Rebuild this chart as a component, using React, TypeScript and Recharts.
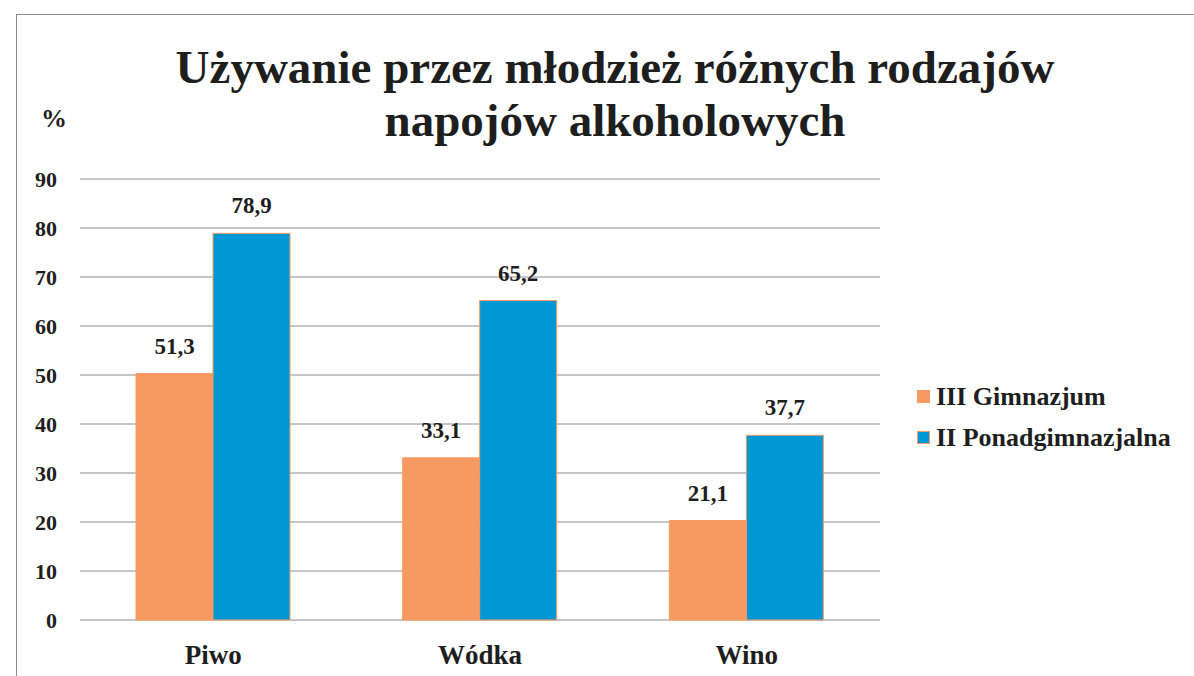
import { Bar, BarChart, CartesianGrid, LabelList, XAxis, YAxis } from "recharts";

const categories = ["Piwo", "Wódka", "Wino"];
// bar heights as drawn in the picture
const gimnazjum = [50.3, 33.1, 20.3];
const ponadgimnazjalna = [78.9, 65.2, 37.7];
// data labels as printed above the bars
const gimnazjumLabels = ["51,3", "33,1", "21,1"];
const ponadLabels = ["78,9", "65,2", "37,7"];
const yTicks = [0, 10, 20, 30, 40, 50, 60, 70, 80, 90];

const ORANGE = "#f79a62";
const BLUE = "#0098d4";
const TEXT = "#1e1e1e";
const FONT = "'Liberation Serif', 'DejaVu Serif', serif";

const data = categories.map((name, i) => ({
  name,
  g: gimnazjum[i],
  p: ponadgimnazjalna[i],
  gl: gimnazjumLabels[i],
  pl: ponadLabels[i],
}));

const legendItems = [
  { label: "III Gimnazjum", color: ORANGE },
  { label: "II Ponadgimnazjalna", color: BLUE },
];

export default function App() {
  return (
    <div
      style={{
        position: "fixed",
        left: 0,
        top: 0,
        width: 1194,
        height: 676,
        background: "#fff",
        fontFamily: FONT,
        overflow: "hidden",
      }}
    >
      <div
        style={{
          position: "absolute",
          left: 16,
          top: 14,
          width: 1200,
          height: 700,
          borderTop: "1px solid #8a8a8a",
          borderLeft: "1px solid #8a8a8a",
        }}
      />
      <div
        style={{
          position: "absolute",
          left: 0,
          width: 1230,
          top: 41,
          textAlign: "center",
          fontWeight: 700,
          fontSize: 47,
          lineHeight: "53px",
          color: TEXT,
        }}
      >
        Używanie przez młodzież różnych rodzajów
        <br />
        napojów alkoholowych
      </div>
      <div
        style={{
          position: "absolute",
          left: 41,
          top: 104,
          fontWeight: 700,
          fontSize: 26,
          color: TEXT,
        }}
      >
        %
      </div>
      <div
        style={{
          position: "absolute",
          left: 917,
          top: 376,
          fontWeight: 700,
          fontSize: 26,
          color: TEXT,
        }}
      >
        {legendItems.map((item) => (
          <div
            key={item.label}
            style={{ display: "flex", alignItems: "center", height: 41 }}
          >
            <span
              style={{
                display: "inline-block",
                width: 11,
                height: 11,
                background: item.color,
                border: `1px solid ${ORANGE}`,
                marginRight: 6,
              }}
            />
            {item.label}
          </div>
        ))}
      </div>
      <BarChart
        width={1194}
        height={676}
        data={data}
        margin={{ top: 179, right: 314, bottom: 0, left: 0 }}
        barCategoryGap="21%"
        barGap={0}
        style={{ position: "absolute", left: 0, top: 0 }}
      >
        <CartesianGrid vertical={false} stroke="#8c8c8c" strokeWidth={1} />
        <XAxis
          dataKey="name"
          height={56}
          axisLine={false}
          tickLine={false}
          tickMargin={19}
          tick={{ fill: TEXT, fontSize: 27, fontWeight: 700, fontFamily: FONT }}
        />
        <YAxis
          width={80}
          domain={[0, 90]}
          ticks={yTicks}
          axisLine={false}
          tickLine={false}
          tickSize={0}
          tickMargin={23}
          tick={{ fill: TEXT, fontSize: 22, fontWeight: 700, fontFamily: FONT }}
        />
        <Bar
          dataKey="g"
          name="III Gimnazjum"
          fill={ORANGE}
          stroke={ORANGE}
          strokeWidth={1}
          isAnimationActive={false}
        >
          <LabelList
            dataKey="gl"
            position="top"
            offset={20}
            fill={TEXT}
            fontSize={23}
            fontWeight={700}
            fontFamily={FONT}
          />
        </Bar>
        <Bar
          dataKey="p"
          name="II Ponadgimnazjalna"
          fill={BLUE}
          stroke={ORANGE}
          strokeWidth={1}
          isAnimationActive={false}
        >
          <LabelList
            dataKey="pl"
            position="top"
            offset={20}
            fill={TEXT}
            fontSize={23}
            fontWeight={700}
            fontFamily={FONT}
          />
        </Bar>
      </BarChart>
    </div>
  );
}
